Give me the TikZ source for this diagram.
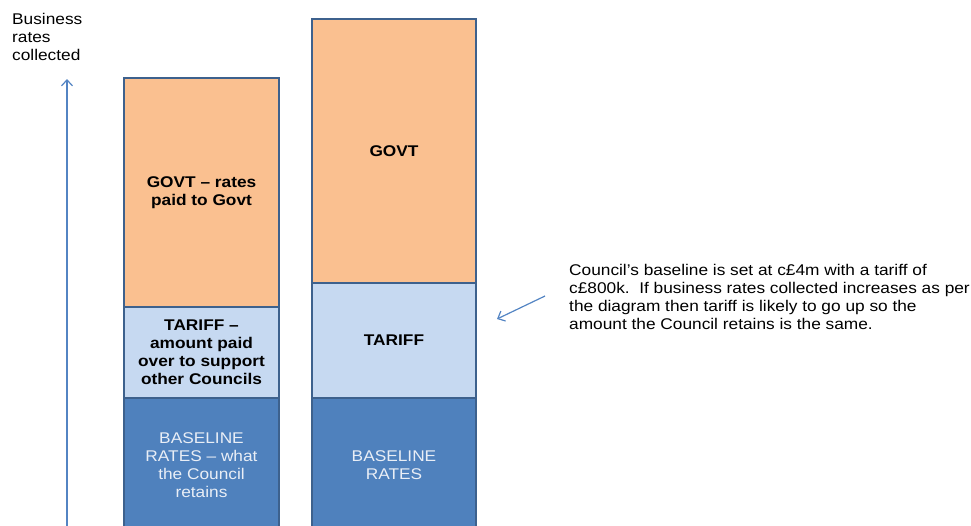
\documentclass[tikz,border=0pt]{standalone}
\usepackage{fontspec}
\setmainfont{Liberation Sans}[FakeStretch=1.115]
\usetikzlibrary{positioning,arrows.meta}
\definecolor{govtfill}{HTML}{FAC090}
\definecolor{tarifffill}{HTML}{C6D9F1}
\definecolor{basefill}{HTML}{4F81BD}
\definecolor{blockline}{HTML}{3D618D}
\definecolor{pointer}{HTML}{5384C3}
\definecolor{basetext}{HTML}{E9EEF6}
\tikzset{
  block/.style={draw=blockline,line width=2pt,inner sep=0pt,outer sep=0pt,
    align=center,font=\fontsize{15.5}{18}\selectfont\bfseries},
  govt/.style={block,fill=govtfill},
  tariff/.style={block,fill=tarifffill},
  baseline/.style={block,fill=basefill,text=basetext,font=\fontsize{15.5}{18}\selectfont},
  axisarrow/.style={draw=pointer,line width=1.2pt,-{Straight Barb[length=6pt,width=11pt]}},
}
\begin{document}
\begin{tikzpicture}[x=1pt,y=-1pt]
  \useasboundingbox (0,0) rectangle (971,525);
  \clip (0,0) rectangle (971,525);

  % first year column
  \node[govt,minimum width=155pt,minimum height=229pt,anchor=north] (lgovt) at (201.5,78)
    {GOVT -- rates\\paid to Govt};
  \node[tariff,minimum width=155pt,minimum height=91pt,below=0pt of lgovt] (ltariff)
    {TARIFF --\\amount paid\\over to support\\other Councils};
  \node[baseline,minimum width=155pt,minimum height=134pt,below=0pt of ltariff] (lbase)
    {BASELINE\\RATES -- what\\the Council\\retains};

  % later column
  \node[govt,minimum width=164pt,minimum height=264pt,anchor=north] (rgovt) at (394,19) {GOVT};
  \node[tariff,minimum width=164pt,minimum height=115pt,below=0pt of rgovt] (rtariff) {TARIFF};
  \node[baseline,minimum width=164pt,minimum height=134pt,below=0pt of rtariff] (rbase)
    {BASELINE\\RATES};

  % axis
  \node[inner sep=0pt,anchor=west,align=left,font=\fontsize{15.5}{18}\selectfont] (axislabel) at (12,37)
    {Business\\rates\\collected};
  \coordinate (axisfoot) at (67,526);
  \coordinate (axistop) at (67,79);
  \draw[axisarrow] (axisfoot) -- (axistop);

  % note
  \node[inner sep=0pt,anchor=west,align=left,font=\fontsize{15.5}{18}\selectfont] (note) at (569,297)
    {Council’s baseline is set at c£4m with a tariff of\\
     c£800k.\ \ If business rates collected increases as per\\
     the diagram then tariff is likely to go up so the\\
     amount the Council retains is the same.};
  \coordinate (notetail) at (545,296);
  \coordinate (notetip) at (497,319);
  \draw[axisarrow] (notetail) -- (notetip);
\end{tikzpicture}
\end{document}
